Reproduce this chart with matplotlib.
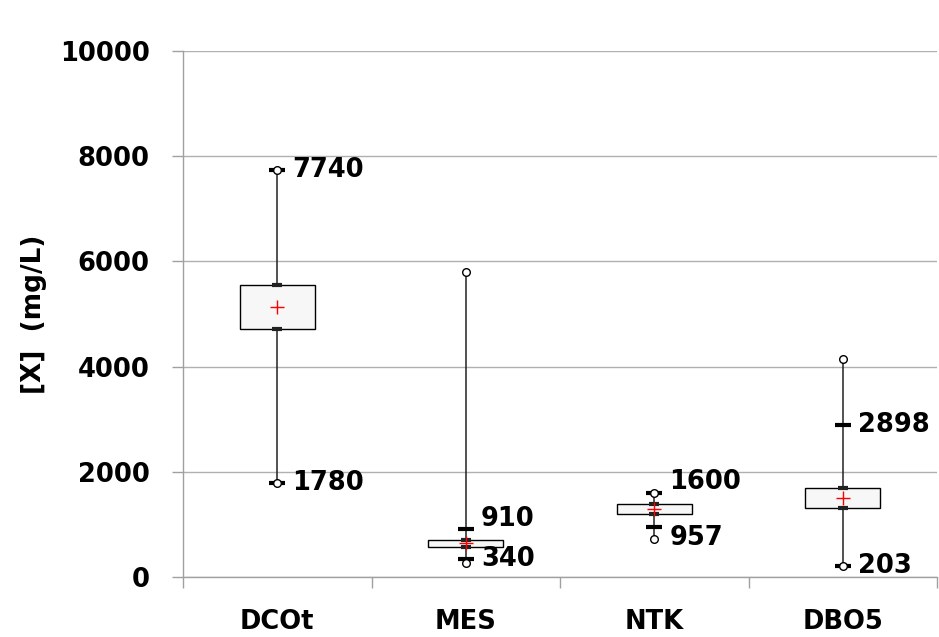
import matplotlib
matplotlib.use("Agg")
import matplotlib.pyplot as plt
import numpy as np

categories = ["DCOt", "MES", "NTK", "DBO5"]
mins = [1780, 270, 720, 200]
p_low = [1780, 340, 957, 203]
q1 = [4720, 576, 1198, 1312]
means = [5140, 640, 1293, 1508]
q3 = [5550, 703, 1388, 1698]
p_high = [7740, 910, 1600, 2898]
maxs = [7740, 5800, 1600, 4150]
y_ticks = [0, 2000, 4000, 6000, 8000, 10000]
ylabel = "[X]  (mg/L)"

# label offsets (points) for the percentile labels
low_dy = [0, 0, -8, 0]
high_dy = [0, 7, 8, 0]

plt.rcParams['font.family'] = ['DejaVu Sans']
plt.rcParams['font.weight'] = 'bold'

fig = plt.figure(figsize=(9.39, 6.37), dpi=100)
ax = fig.add_axes([0.1949, 0.0942, 0.9979 - 0.1949, 0.92 - 0.0942])

pos = np.arange(1, len(categories) + 1)
stats = []
for i, c in enumerate(categories):
    stats.append(dict(label=c, whislo=mins[i], q1=q1[i], med=means[i],
                      q3=q3[i], whishi=maxs[i], mean=means[i], fliers=[]))

ax.bxp(stats, positions=pos, widths=0.4, patch_artist=True, showcaps=False,
       showmeans=False, showfliers=False,
       boxprops=dict(facecolor="#f7f7f7", edgecolor="black", linewidth=1),
       whiskerprops=dict(color="#222222", linewidth=1.1),
       medianprops=dict(linewidth=0, color="none"), zorder=3)

# small caps at box edges
ax.plot(pos, q1, linestyle="none", marker="_", markersize=7, mew=3, color="#222222", zorder=4)
ax.plot(pos, q3, linestyle="none", marker="_", markersize=7, mew=3, color="#222222", zorder=4)
# percentile dashes
ax.plot(pos, p_low, linestyle="none", marker="_", markersize=11, mew=3, color="black", zorder=5)
ax.plot(pos, p_high, linestyle="none", marker="_", markersize=11, mew=3, color="black", zorder=5)
# min / max circles
ax.plot(pos, mins, linestyle="none", marker="o", markersize=5.5, mfc="white", mec="black", mew=1, zorder=6)
ax.plot(pos, maxs, linestyle="none", marker="o", markersize=5.5, mfc="white", mec="black", mew=1, zorder=6)
# mean
ax.plot(pos, means, linestyle="none", marker="+", markersize=10, mew=1, color="red", zorder=7)

for i in range(len(categories)):
    ax.annotate(str(p_high[i]), (pos[i], p_high[i]), xytext=(11, high_dy[i]),
                textcoords="offset points", ha="left", va="center",
                fontsize=18.5, fontweight="bold", zorder=8)
    ax.annotate(str(p_low[i]), (pos[i], p_low[i]), xytext=(11, low_dy[i]),
                textcoords="offset points", ha="left", va="center",
                fontsize=18.5, fontweight="bold", zorder=8)

ax.set_xlim(0.5, len(categories) + 0.5)
ax.set_ylim(0, 10000)
ax.set_yticks(y_ticks)
ax.set_yticklabels([str(t) for t in y_ticks], fontsize=18.5, fontweight="bold")
ax.tick_params(axis="y", length=8, width=1, color="#a0a0a0", pad=16)
ax.yaxis.grid(True, color="#b0b0b0", linewidth=1)
ax.set_axisbelow(True)

ax.set_xticks(pos)
ax.set_xticklabels(categories, fontsize=18.5, fontweight="bold")
ax.tick_params(axis="x", which="major", length=0, pad=23)
ax.set_xticks(np.arange(0.5, len(categories) + 1, 1), minor=True)
ax.tick_params(axis="x", which="minor", length=8, width=1, color="#a0a0a0")

for s in ["top", "right"]:
    ax.spines[s].set_visible(False)
for s in ["left", "bottom"]:
    ax.spines[s].set_color("#a0a0a0")
    ax.spines[s].set_linewidth(1)

ax.set_ylabel(ylabel, fontsize=19, fontweight="bold", labelpad=9)

fig.savefig("out.png", dpi=100)
